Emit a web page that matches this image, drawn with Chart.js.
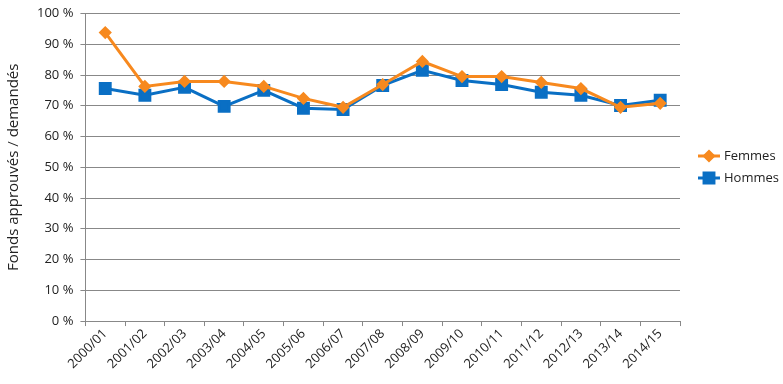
<!DOCTYPE html>
<html>
<head>
  <meta charset="UTF-8" />
  <title>Fonds approuvés / demandés</title>
  <style>
    body { margin: 0; background: #fff; }
    #wrap { position: relative; width: 783px; height: 384px; }
  </style>
</head>
<body>
  <div id="wrap"><canvas id="ratioChart"></canvas></div>
  <script src="https://cdn.jsdelivr.net/npm/chart.js"></script>
  <script>
    const years = ['2000/01', '2001/02', '2002/03', '2003/04', '2004/05', '2005/06', '2006/07', '2007/08',
                   '2008/09', '2009/10', '2010/11', '2011/12', '2012/13', '2013/14', '2014/15'];
    const femmes = [93.8, 76.3, 77.9, 77.9, 76.3, 72.4, 69.5, 76.9, 84.4, 79.5, 79.5, 77.6, 75.6, 69.5, 70.8];
    const hommes = [75.6, 73.4, 76.0, 69.8, 75.0, 69.2, 68.8, 76.6, 81.5, 78.2, 76.9, 74.4, 73.4, 70.1, 71.8];

    const fontFamily = "'Open Sans', 'DejaVu Sans', sans-serif";
    const textColor = '#222';

    // excel style legend: short line with the marker in the middle
    const sideLegend = {
      id: 'sideLegend',
      afterDraw(chart) {
        const ctx = chart.ctx;
        const x0 = chart.chartArea.right + 18;
        let y = 156;
        chart.data.datasets.forEach(ds => {
          ctx.save();
          ctx.strokeStyle = ds.borderColor;
          ctx.lineWidth = 3;
          ctx.beginPath();
          ctx.moveTo(x0, y);
          ctx.lineTo(x0 + 22, y);
          ctx.stroke();
          Chart.helpers.drawPoint(ctx, {
            pointStyle: ds.pointStyle, radius: ds.pointRadius, borderWidth: 1
          }, x0 + 11, y);
          ctx.fillStyle = ds.borderColor;
          ctx.fill();
          ctx.fillStyle = textColor;
          ctx.font = '13px ' + fontFamily;
          ctx.textBaseline = 'middle';
          ctx.fillText(ds.label, x0 + 26, y);
          ctx.restore();
          y += 22;
        });
      }
    };

    new Chart(document.getElementById('ratioChart'), {
      type: 'line',
      data: {
        labels: years,
        datasets: [{
          label: 'Femmes',
          data: femmes,
          borderColor: '#F7891E',
          backgroundColor: '#F7891E',
          borderWidth: 3,
          pointStyle: 'rectRot',
          pointRadius: 4.5,
          pointHoverRadius: 4.5,
          tension: 0
        }, {
          label: 'Hommes',
          data: hommes,
          borderColor: '#0A6FC4',
          backgroundColor: '#0A6FC4',
          borderWidth: 3,
          pointStyle: 'rect',
          pointRadius: 7,
          pointHoverRadius: 7,
          tension: 0
        }]
      },
      options: {
        responsive: true,
        maintainAspectRatio: false,
        animation: false,
        layout: { padding: { top: 5, right: 103, left: 5, bottom: 12 } },
        plugins: {
          legend: { display: false },
          tooltip: { enabled: false }
        },
        scales: {
          x: {
            offset: true,
            grid: { display: true, drawOnChartArea: false, drawTicks: true, tickLength: 5, color: '#888', offset: true },
            border: { color: '#888' },
            ticks: {
              color: textColor, font: { family: fontFamily, size: 13 },
              maxRotation: 45, minRotation: 45, padding: 0, autoSkip: false
            }
          },
          y: {
            min: 0, max: 100,
            ticks: {
              stepSize: 10, color: textColor, font: { family: fontFamily, size: 13, lineHeight: 1 },
              padding: 7,
              callback: v => v + ' %'
            },
            grid: { color: '#888', tickLength: 5 },
            border: { color: '#888' },
            title: {
              display: true, text: 'Fonds approuvés / demandés',
              color: textColor, font: { family: fontFamily, size: 15 },
              padding: { top: 0, bottom: 7 }
            }
          }
        }
      },
      plugins: [sideLegend]
    });
  </script>
</body>
</html>
